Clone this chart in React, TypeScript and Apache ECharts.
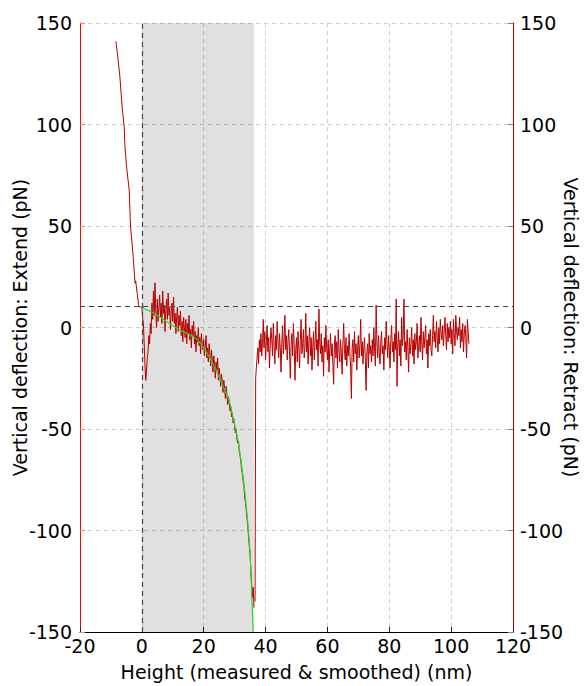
import React, { useEffect, useRef } from "react";
import * as echarts from "echarts";

// Approach part of the extend curve: [height nm, deflection pN]
const approachPoints: [number, number][] = [
  [-8.4, 141], [-7.9, 135], [-7.1, 123.5], [-6.4, 108.8], [-5.7, 98.9], [-5.5, 90],
  [-5.3, 85.8], [-4.95, 79.2], [-4.1, 67.7], [-3.66, 49.7], [-2.8, 34.9], [-2.2, 21.8],
  [-2.0, 23], [-1.5, 16.8], [-0.97, 10.2], [-0.4, 10.2],
];

// Extend trace in the contact region, sampled every 0.25 nm from 0 nm
const extendStart = 0;
const extendStep = 0.25;
const extendValues = [
  10, 5, 2, -8, -18, -26, -22, -15, -12, -4,
  -8, 2, -3, 12, 4, 18, 6, 22, 8, 0,
  14, 3, 10, 16, 5, 12, 2, 18, 7, 11,
  -2, 9, 14, 4, 17, 6, 10, -1, 8, 12,
  3, 15, 2, 7, -3, 5, 10, -2, 6, 1,
  8, -4, 3, -7, 5, 0, -5, 4, -8, 2,
  -3, 6, -6, -1, -10, 1, -4, 3, -8, -2,
  -12, -4, -7, 0, -9, -5, -13, -3, -8, -11,
  -6, -14, -9, -4, -15, -10, -17, -8, -13, -19,
  -11, -16, -22, -14, -18, -25, -17, -21, -15, -26,
  -20, -24, -29, -23, -27, -32, -26, -30, -35, -29,
  -33, -38, -34, -37, -41, -39, -44, -42, -47, -45,
  -49, -52, -50, -55, -57, -56, -61, -63, -66, -70,
  -72, -76, -78, -84, -86, -90, -94, -98, -103, -108,
  -112, -120, -126, -133, -128, -138,
];

// Smoothed extend curve
const smoothPoints: [number, number][] = [
  [0, 9.5], [1, 9], [2, 8.5], [3, 7.8], [4, 7], [5, 6], [6, 5], [7, 4], [8, 3], [9, 2],
  [10, 1], [11, 0], [12, -1], [13, -1.8], [14, -2.5], [15, -3.3], [16, -4], [17, -5],
  [18, -6], [19, -8], [20, -10], [21, -12.5], [22, -15], [23, -18], [24, -21], [25, -24.5],
  [26, -28], [27, -31.5], [28, -35], [29, -41], [30, -48], [31, -55], [32, -65], [33, -77],
  [34, -92], [34.5, -101], [35, -111], [35.5, -131], [36, -150],
];

// Retract: jump-off points, then samples every 0.25 nm from 37 nm
const retractJump: [number, number][] = [[36.6, -135], [36.8, -25]];
const retractStart = 37;
const retractStep = 0.25;
const retractValues = [
  -20, -15, -10, -18, -6, -12, -3, -14, -8, 4,
  -10, -2, -16, -7, 1, -12, -5, -20, -9, 0,
  -6, -14, 2, -9, -18, -4, -11, 3, -7, -15,
  -3, -10, -22, -8, 1, -13, -6, 6, -11, -4,
  -16, -7, -1, -12, -25, -9, -3, -14, 2, -8,
  -26, -11, -5, -17, -2, -10, -20, -6, 4, -13,
  -8, -1, -15, -9, 7, -12, -4, -18, -7, 0,
  -14, -5, -21, -10, -2, -16, -8, 3, -11, -6,
  -19, 9, -7, -13, -3, -17, -9, -24, -5, -12,
  1, -10, -16, -6, -22, -11, -3, -14, -8, -18,
  -28, -9, -4, -15, -7, -20, -1, -12, -17, -6,
  -13, -23, -8, 2, -11, -16, -5, -19, -9, -14,
  -3, -12, -20, -35, -10, -6, -17, -2, -13, -8,
  -21, -11, -4, -15, -9, 4, -14, -7, -18, -10,
  -5, -16, -31, -12, -8, -20, -3, -13, -9, -17,
  -6, -14, 0, -10, -19, 11, -8, -15, -4, -12,
  -18, -7, -2, -13, -9, -21, -5, -11, 3, -8,
  -15, -4, -10, -20, -6, 1, -12, -7, -17, -3,
  -11, 14, -29, -8, -2, -14, -6, -19, 5, -9,
  -4, 14, -12, -7, -16, -1, -10, -22, -5, -13,
  -8, 0, -14, -6, -18, -3, -11, -7, 2, -15,
  -9, -4, -12, 5, -7, -16, -2, -10, -5, 1,
  -13, -6, -20, -3, -9, -1, -11, -14, -4, 6,
  -7, -2, -10, 3, -5, -12, 0, -8, 4, -3,
  -6, 1, -9, -2, 5, -4, -11, 2, -7, 0,
  -5, 3, -8, -1, -13, 4, -3, -9, 6, -2,
  -6, 0, -4, 5, -10, -1, -7, 2, -12, -3,
  1, -5, -15, 4, -2, -8,
];

const xTicks = { min: -20, max: 120, interval: 20 };
const yTicks = { min: -150, max: 150, interval: 50 };
const contactRegion: [number, number] = [0, 36.2];
const zeroHeight = 0;
const baselineForce = 10.5;

export default function App() {
  const ref = useRef<HTMLDivElement>(null);
  useEffect(() => {
    if (!ref.current) return;
    const chart = echarts.init(ref.current, null, { renderer: "svg", width: 585, height: 686 });
    const extendData: [number, number][] = [
      ...approachPoints,
      ...extendValues.map((v, i) => [extendStart + i * extendStep, v] as [number, number]),
    ];
    const retractData: [number, number][] = [
      ...retractJump,
      ...retractValues.map((v, i) => [retractStart + i * retractStep, v] as [number, number]),
    ];
    const font = "DejaVu Sans";
    const fs = 19;
    const grid = { lineStyle: { color: "#cfcfcf", type: [4, 4], width: 1 } };
    chart.setOption({
      animation: false,
      grid: {
        left: 80,
        right: 72,
        top: 23,
        bottom: 54,
        containLabel: false,
        outerBoundsMode: "none",
      },
      xAxis: {
        type: "value",
        min: xTicks.min,
        max: xTicks.max,
        interval: xTicks.interval,
        name: "Height (measured & smoothed) (nm)",
        nameLocation: "middle",
        nameGap: 30,
        nameTextStyle: { fontFamily: font, fontSize: fs, color: "#000" },
        axisLine: { onZero: false, lineStyle: { color: "#000", width: 1 } },
        axisTick: { inside: true, length: 5, lineStyle: { color: "#222" } },
        axisLabel: { fontFamily: font, fontSize: fs, color: "#000", margin: 4 },
        splitLine: { show: true, ...grid },
      },
      yAxis: [
        {
          type: "value",
          position: "left",
          min: yTicks.min,
          max: yTicks.max,
          interval: yTicks.interval,
          name: "Vertical deflection: Extend (pN)",
          nameLocation: "middle",
          nameGap: 51,
          nameRotate: 90,
          nameMoveOverlap: false,
          nameTextStyle: { fontFamily: font, fontSize: fs, color: "#000" },
          axisLine: { show: true, onZero: false, lineStyle: { color: "#ff0000", width: 1 } },
          axisTick: { show: true, inside: true, length: 5, lineStyle: { color: "#ff8080" } },
          axisLabel: { fontFamily: font, fontSize: fs, color: "#000", margin: 8 },
          splitLine: { show: true, ...grid },
        },
        {
          type: "value",
          position: "right",
          min: yTicks.min,
          max: yTicks.max,
          interval: yTicks.interval,
          name: "Vertical deflection: Retract (pN)",
          nameLocation: "middle",
          nameGap: 48,
          nameRotate: -90,
          nameMoveOverlap: false,
          nameTextStyle: { fontFamily: font, fontSize: fs, color: "#000" },
          axisLine: { show: true, onZero: false, lineStyle: { color: "#b00000", width: 1 } },
          axisTick: { show: true, inside: true, length: 5, lineStyle: { color: "#d06060" } },
          axisLabel: { fontFamily: font, fontSize: fs, color: "#000", margin: 7 },
          splitLine: { show: false },
        },
      ],
      series: [
        {
          type: "line",
          data: [],
          z: 1,
          silent: true,
          markArea: {
            silent: true,
            itemStyle: { color: "rgba(0,0,0,0.12)" },
            data: [[{ xAxis: contactRegion[0] }, { xAxis: contactRegion[1] }]],
          },
        },
        {
          name: "Extend",
          type: "line",
          yAxisIndex: 0,
          data: extendData,
          showSymbol: false,
          symbol: "none",
          lineStyle: { color: "#b80000", width: 1 },
          z: 3,
        },
        {
          name: "Retract",
          type: "line",
          yAxisIndex: 1,
          data: retractData,
          showSymbol: false,
          symbol: "none",
          lineStyle: { color: "#b80000", width: 1 },
          z: 3,
        },
        {
          name: "Smoothed",
          type: "line",
          yAxisIndex: 0,
          data: smoothPoints,
          showSymbol: false,
          symbol: "none",
          smooth: 0.3,
          lineStyle: { color: "#22dd22", width: 1.2 },
          z: 4,
        },
        {
          type: "line",
          data: [],
          z: 5,
          silent: true,
          markLine: {
            silent: true,
            symbol: "none",
            label: { show: false },
            lineStyle: { color: "#444", type: [5, 4], width: 1.2 },
            data: [{ xAxis: zeroHeight }, { yAxis: baselineForce }],
          },
        },
      ],
    });
    return () => chart.dispose();
  }, []);
  return (
    <div
      ref={ref}
      style={{ position: "absolute", left: 0, top: 0, width: 585, height: 686, overflow: "hidden" }}
    />
  );
}
